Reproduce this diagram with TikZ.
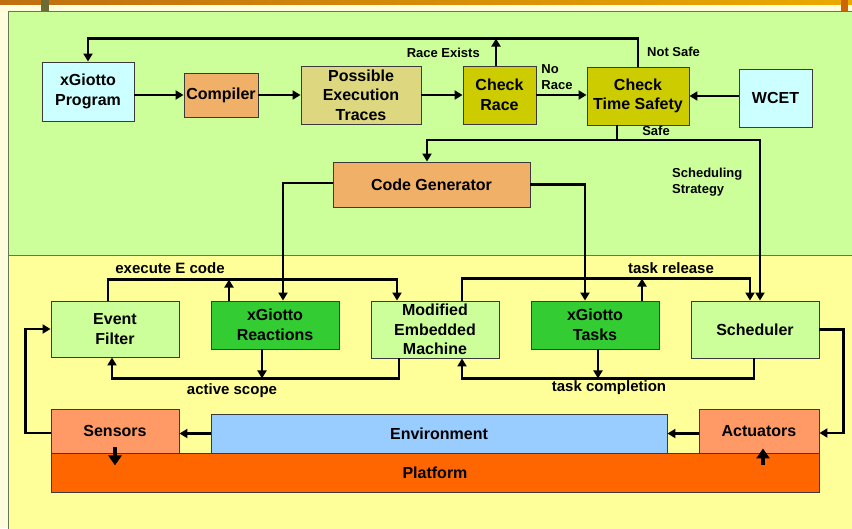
\documentclass[tikz,border=0pt]{standalone}
\usepackage{fontspec}
\setmainfont{Liberation Sans}
\usetikzlibrary{arrows.meta}
\definecolor{cream}{HTML}{FFFDDC}
\definecolor{panelgreen}{HTML}{CCFF99}
\definecolor{panelyellow}{HTML}{FFFF99}
\definecolor{panelborder}{HTML}{667755}
\definecolor{bandleft}{HTML}{BF6F10}
\definecolor{bandright}{HTML}{EBAA00}
\definecolor{olivebar}{HTML}{6B6B35}
\definecolor{orangemark}{HTML}{CC6600}
\definecolor{cyanbox}{HTML}{CCFFFF}
\definecolor{sandbox}{HTML}{F0B068}
\definecolor{khakibox}{HTML}{DDD780}
\definecolor{olivebox}{HTML}{CCCC00}
\definecolor{lightgreenbox}{HTML}{CCFF99}
\definecolor{greenbox}{HTML}{33CC33}
\definecolor{salmonbox}{HTML}{FF9966}
\definecolor{bluebox}{HTML}{99CCFF}
\definecolor{platbox}{HTML}{FF6600}
\definecolor{boxborder}{HTML}{3A3A3A}
\tikzset{
  box/.style={draw=boxborder, line width=0.9pt, align=center, inner sep=0pt,
    font=\fontsize{16}{19.5}\selectfont\bfseries},
  lbl/.style={inner sep=0pt, font=\fontsize{13}{16}\selectfont\bfseries},
  biglbl/.style={inner sep=0pt, font=\fontsize{15}{18}\selectfont\bfseries},
  conn/.style={line width=2.6pt, line join=miter},
  arr/.style={conn, -{Triangle[length=8pt,width=9pt]}},
  bigarr/.style={line width=4pt, -{Triangle[length=10pt,width=13pt]}},
}
\begin{document}
\begin{tikzpicture}[x=1pt,y=-1pt]
\useasboundingbox (0,0) rectangle (852,528);
% background
\fill[cream] (0,0) rectangle (852,528);
\shade[left color=bandleft, right color=bandright] (0,0) rectangle (852,4.3);
\fill[panelyellow] (8,255) rectangle (853,529);
\draw[panelborder, line width=0.8pt] (8,529) -- (8,255) -- (853,255);
\fill[panelgreen, draw=panelborder, line width=0.8pt] (8,255) -- (8,11.5) -- (853,11.5) -- (853,255);
\draw[panelborder, line width=0.8pt] (8,255) -- (853,255);
\fill[olivebar] (41,0) rectangle (49,11);
\fill[orangemark] (841,0) rectangle (848,11);

% upper nodes
\node[box, fill=cyanbox, minimum width=92, minimum height=59] (prog) at (88,91.5) {xGiotto\\Program};
\node[box, fill=sandbox, minimum width=74, minimum height=44] (comp) at (221,95) {Compiler};
\node[box, fill=khakibox, minimum width=120, minimum height=58] (pet) at (361,95) {Possible\\Execution\\Traces};
\node[box, fill=olivebox, minimum width=73, minimum height=58] (race) at (499.5,95) {Check\\Race};
\node[box, fill=olivebox, minimum width=102, minimum height=58] (cts) at (638,96) {Check\\Time Safety};
\node[box, fill=cyanbox, minimum width=73, minimum height=58] (wcet) at (775.5,98) {WCET};
\node[box, fill=sandbox, minimum width=197, minimum height=45] (cg) at (431.5,184.5) {Code Generator};

% lower nodes
\node[box, fill=lightgreenbox, minimum width=128, minimum height=56] (ef) at (115,329) {Event\\Filter};
\node[box, fill=greenbox, minimum width=128, minimum height=48] (react) at (275,325) {xGiotto\\Reactions};
\node[box, fill=lightgreenbox, minimum width=128, minimum height=57] (mem) at (435,329.5) {Modified\\Embedded\\Machine};
\node[box, fill=greenbox, minimum width=128, minimum height=48] (tasks) at (595,325) {xGiotto\\Tasks};
\node[box, fill=lightgreenbox, minimum width=128, minimum height=57] (sched) at (755,329.5) {Scheduler};
\node[box, fill=salmonbox, minimum width=128, minimum height=44] (sens) at (115,431) {Sensors};
\node[box, fill=bluebox, minimum width=456, minimum height=39] (env) at (439,433.5) {Environment};
\node[box, fill=salmonbox, minimum width=120, minimum height=44] (act) at (759,431) {Actuators};
\node[box, fill=platbox, minimum width=768, minimum height=39] (plat) at (435,472.5) {Platform};

% upper connectors
\draw[arr] (cts.north) -- ++(0,-28) -| (prog.north);
\draw[arr] ([xshift=-3.5pt]race.north) -- ++(0,-27);
\draw[arr] (prog.east |- comp.west) -- (comp.west);
\draw[arr] (comp.east) -- (pet.west |- comp.east);
\draw[arr] (pet.east) -- (race.west);
\draw[arr] (race.east) -- (cts.west |- race.east);
\draw[arr] (wcet.west |- cts.east) -- (cts.east);
\coordinate (sj) at (617,140);
\draw[conn] (cts.south -| sj) -- (sj);
\draw[arr] (sj) -| ([xshift=-4.5pt]cg.north);
\draw[arr] (sj) -| ([xshift=5pt]sched.north);
\draw[arr] ([yshift=1.5pt]cg.west) -| ([xshift=8pt]react.north);
\draw[arr] (cg.east) -| ([xshift=-10pt]tasks.north);

% labels upper
\node[lbl, anchor=east] (lre) at (480,53) {Race Exists};
\node[lbl, anchor=west] (lns) at (647,52) {Not Safe};
\node[lbl, align=left] (lnr) at (557,77.5) {No\\Race};
\node[lbl] (lsafe) at (656,131) {Safe};
\node[lbl, anchor=west, align=left] (lss) at (672,182) {Scheduling\\Strategy};

% lower connectors
\draw[arr] ([xshift=-7pt]ef.north) -- ++(0,-21) -| ([xshift=-38pt]mem.north);
\draw[arr] ([xshift=-46pt]react.north) -- ++(0,-21);
\draw[arr] ([xshift=-36pt]mem.south) -- ++(0,20) -| ([xshift=-3pt]ef.south);
\draw[arr] ([xshift=-13pt]react.south) -- ++(0,29);
\draw[arr] ([xshift=27pt]mem.north) -- ++(0,-22) -| ([xshift=-5pt]sched.north);
\draw[arr] ([xshift=47pt]tasks.north) -- ++(0,-22);
\draw[arr] ([xshift=-1pt]sched.south) -- ++(0,20) -| ([xshift=27pt]mem.south);
\draw[arr] ([xshift=3pt]tasks.south) -- ++(0,29);
\draw[arr] (sched.east) -- ++(24,0) |- ([yshift=-2pt]act.east);
\draw[arr] (act.west |- env.east) -- (env.east);
\draw[arr] (env.west) -- (sens.east |- env.west);
\draw[arr] ([yshift=-2pt]sens.west) -- ++(-25,0) |- (ef.west);
\draw[bigarr] ([yshift=6pt]sens.south) -- ([yshift=-12pt]sens.south);
\draw[bigarr] ([xshift=4pt,yshift=-12pt]act.south) -- ([xshift=4pt,yshift=5pt]act.south);

% labels lower
\node[biglbl] (lexe) at (170,268) {execute E code};
\node[biglbl] (lact) at (232,391) {active scope};
\node[biglbl] (lrel) at (671,268) {task release};
\node[biglbl] (lcomp) at (609,388) {task completion};
\end{tikzpicture}
\end{document}
